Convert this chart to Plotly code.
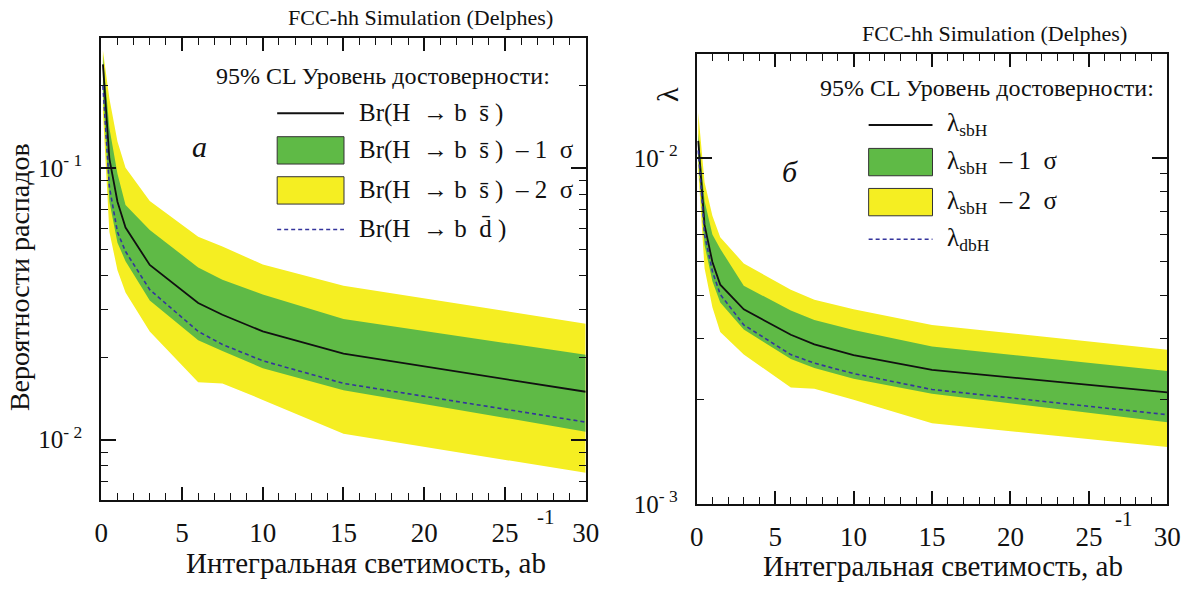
import plotly.graph_objects as go

W, H = 1199, 593

# ---------------- data ----------------
lumi = [0.1, 0.5, 1, 1.5, 3, 6, 7.5, 10, 15, 30]

# panel a: branching ratios
br_bs = [0.24, 0.108, 0.075, 0.0603, 0.0439, 0.0318, 0.0288, 0.0250, 0.0207, 0.0150]
br_bs_1s_lo = [0.19, 0.075, 0.053, 0.0453, 0.0325, 0.0232, 0.0212, 0.0183, 0.0152, 0.0107]
br_bs_1s_hi = [0.26, 0.14, 0.095, 0.073, 0.059, 0.043, 0.0387, 0.0342, 0.0278, 0.0205]
br_bs_2s_lo = [0.16, 0.058, 0.042, 0.0348, 0.025, 0.01626, 0.0161, 0.0140, 0.0105, 0.00755]
br_bs_2s_hi = [0.27, 0.18, 0.125, 0.100, 0.0755, 0.0557, 0.0513, 0.0441, 0.0368, 0.0267]
br_bd = [0.2, 0.085, 0.058, 0.0492, 0.0356, 0.025, 0.0224, 0.0195, 0.0161, 0.0116]

# panel б: couplings
lam_sb = [0.0112, 0.0064, 0.0050, 0.0043, 0.00365, 0.00308, 0.00289, 0.00269, 0.00244, 0.0021]
lam_1s_lo = [0.0100, 0.0056, 0.0044, 0.00382, 0.00319, 0.00262, 0.00247, 0.0023, 0.00208, 0.00172]
lam_1s_hi = [0.0118, 0.0075, 0.0060, 0.00546, 0.00427, 0.00362, 0.0034, 0.00318, 0.00285, 0.00242]
lam_2s_lo = [0.0092, 0.0048, 0.0037, 0.00314, 0.0027, 0.00217, 0.00215, 0.0020, 0.00171, 0.00146]
lam_2s_hi = [0.0135, 0.0085, 0.0068, 0.0059, 0.00495, 0.00416, 0.00389, 0.00365, 0.00329, 0.00279]
lam_db = [0.0105, 0.0060, 0.0047, 0.00403, 0.00329, 0.0027, 0.00255, 0.00238, 0.00214, 0.00181]

x_ticks = [0, 5, 10, 15, 20, 25, 30]
left_yticks = [0.01, 0.1]
left_yticktext = ["10<sup>- 2</sup>", "10<sup>- 1</sup>"]
right_yticks = [0.001, 0.01]
right_yticktext = ["10<sup>- 3</sup>", "10<sup>- 2</sup>"]

legend_left = ["Br(H  \u2192 b  s\u0304 )", "Br(H  \u2192 b  s\u0304 )  \u2013 1  \u03c3",
               "Br(H  \u2192 b  s\u0304 )  \u2013 2  \u03c3", "Br(H  \u2192 b  d\u0304 )"]
legend_right = ["\u03bb<sub>sbH</sub>", "\u03bb<sub>sbH</sub>  \u2013 1  \u03c3",
                "\u03bb<sub>sbH</sub>  \u2013 2  \u03c3", "\u03bb<sub>dbH</sub>"]

# ---------------- style ----------------
FONT = "Liberation Serif"
YELLOW = "#f5ee22"
GREEN = "#5fba46"
BLUE = "#34349c"
BLACK = "#111111"


def px(x):
    return x / W


def py(y):
    return 1 - y / H


fig = go.Figure()


def add_panel(xa, ya, lo2, hi2, lo1, hi1, central, dashed):
    fig.add_trace(go.Scatter(x=lumi, y=lo2, mode="lines", line=dict(width=0, color=YELLOW),
                             xaxis=xa, yaxis=ya, showlegend=False, hoverinfo="skip"))
    fig.add_trace(go.Scatter(x=lumi, y=hi2, mode="lines", line=dict(width=0, color=YELLOW),
                             fill="tonexty", fillcolor=YELLOW,
                             xaxis=xa, yaxis=ya, showlegend=False, hoverinfo="skip"))
    fig.add_trace(go.Scatter(x=lumi, y=lo1, mode="lines", line=dict(width=0, color=GREEN),
                             xaxis=xa, yaxis=ya, showlegend=False, hoverinfo="skip"))
    fig.add_trace(go.Scatter(x=lumi, y=hi1, mode="lines", line=dict(width=0, color=GREEN),
                             fill="tonexty", fillcolor=GREEN,
                             xaxis=xa, yaxis=ya, showlegend=False, hoverinfo="skip"))
    fig.add_trace(go.Scatter(x=lumi, y=central, mode="lines", line=dict(width=1.8, color=BLACK),
                             xaxis=xa, yaxis=ya, showlegend=False))
    fig.add_trace(go.Scatter(x=lumi, y=dashed, mode="lines",
                             line=dict(width=1.6, color=BLUE, dash="4px,3px"),
                             xaxis=xa, yaxis=ya, showlegend=False))


add_panel("x", "y", br_bs_2s_lo, br_bs_2s_hi, br_bs_1s_lo, br_bs_1s_hi, br_bs, br_bd)
add_panel("x2", "y2", lam_2s_lo, lam_2s_hi, lam_1s_lo, lam_1s_hi, lam_sb, lam_db)

# plot areas in pixels
L_box = (96, 589, 39, 512)
R_box = (702, 1181, 55, 516)

xcommon = dict(range=[0, 30], tickvals=x_ticks, ticks="inside", ticklen=13, tickwidth=1.5,
               tickcolor=BLACK, showline=True, linewidth=2, linecolor=BLACK, mirror="ticks",
               showgrid=False, zeroline=False,
               minor=dict(ticks="inside", ticklen=7, tickwidth=1.3, tickcolor=BLACK, dtick=1, showgrid=False),
               tickfont=dict(family=FONT, size=27, color=BLACK), ticklabelstandoff=8)
ycommon = dict(type="log", ticks="inside", ticklen=15, tickwidth=1.5, tickcolor=BLACK,
               showline=True, linewidth=2, linecolor=BLACK, mirror="ticks", showgrid=False,
               zeroline=False,
               minor=dict(ticks="inside", ticklen=7, tickwidth=1.3, tickcolor=BLACK, dtick="D1", showgrid=False),
               tickfont=dict(family=FONT, size=25, color=BLACK), ticklabelstandoff=12)

fig.update_layout(
    width=W, height=H, margin=dict(l=0, r=0, t=0, b=0),
    paper_bgcolor="white", plot_bgcolor="white", showlegend=False,
    font=dict(family=FONT, color=BLACK, size=22),
    xaxis=dict(domain=[px(L_box[0]), px(L_box[1])], anchor="y", **xcommon),
    yaxis=dict(domain=[py(L_box[3]), py(L_box[2])], anchor="x",
               range=[-2.2218, -0.5229], tickvals=left_yticks, ticktext=left_yticktext, **ycommon),
    xaxis2=dict(domain=[px(R_box[0]), px(R_box[1])], anchor="y2", **xcommon),
    yaxis2=dict(domain=[py(R_box[3]), py(R_box[2])], anchor="x2",
                range=[-3, -1.69897], tickvals=right_yticks, ticktext=right_yticktext, **ycommon),
)

shapes = []
ann = []


def text(x, y, s, size=22, xanchor="center", angle=0, italic=False):
    ann.append(dict(x=px(x), y=py(y), xref="paper", yref="paper", text=s, showarrow=False,
                    xanchor=xanchor, yanchor="middle", textangle=angle,
                    font=dict(family=FONT, size=size, color=BLACK,
                              style="italic" if italic else "normal")))


def legend(x0, x1, ys, labels, tx, header_x, header_y):
    text(header_x, header_y, "95% CL Уровень достоверности:", size=24, xanchor="center")
    # line
    shapes.append(dict(type="line", xref="paper", yref="paper", x0=px(x0), x1=px(x1),
                       y0=py(ys[0]), y1=py(ys[0]), line=dict(color=BLACK, width=1.8)))
    for yc, col in ((ys[1], GREEN), (ys[2], YELLOW)):
        shapes.append(dict(type="rect", xref="paper", yref="paper", x0=px(x0), x1=px(x1),
                           y0=py(yc + 14), y1=py(yc - 14), fillcolor=col,
                           line=dict(color="#333333", width=1)))
    shapes.append(dict(type="line", xref="paper", yref="paper", x0=px(x0), x1=px(x1),
                       y0=py(ys[3]), y1=py(ys[3]), line=dict(color=BLUE, width=1.6, dash="4px,3px")))
    for yc, lab in zip(ys, labels):
        text(tx, yc, lab, size=25, xanchor="left")


legend(275, 343, [116, 154, 195, 235], legend_left, 356, 383, 78)
legend(877, 942, [128, 166, 207, 245], legend_right, 955, 997, 90)

# panel letters
text(196, 150, "a", size=30, italic=True)
text(797, 176, "б", size=30, italic=True)

# titles
text(421, 18, "FCC-hh Simulation (Delphes)", size=22)
text(1005, 34, "FCC-hh Simulation (Delphes)", size=22)

# axis titles
text(365, 577, "Интегральная светимость, ab", size=29)
text(549, 530, "-1", size=21)
text(953, 580, "Интегральная светимость, ab", size=29)
text(1137, 532, "-1", size=21)
text(13, 284, "Вероятности распадов", size=28, angle=-90)
text(672, 97, "λ", size=30, angle=-90)

fig.update_layout(shapes=shapes, annotations=ann)
fig.write_html("out.html")
